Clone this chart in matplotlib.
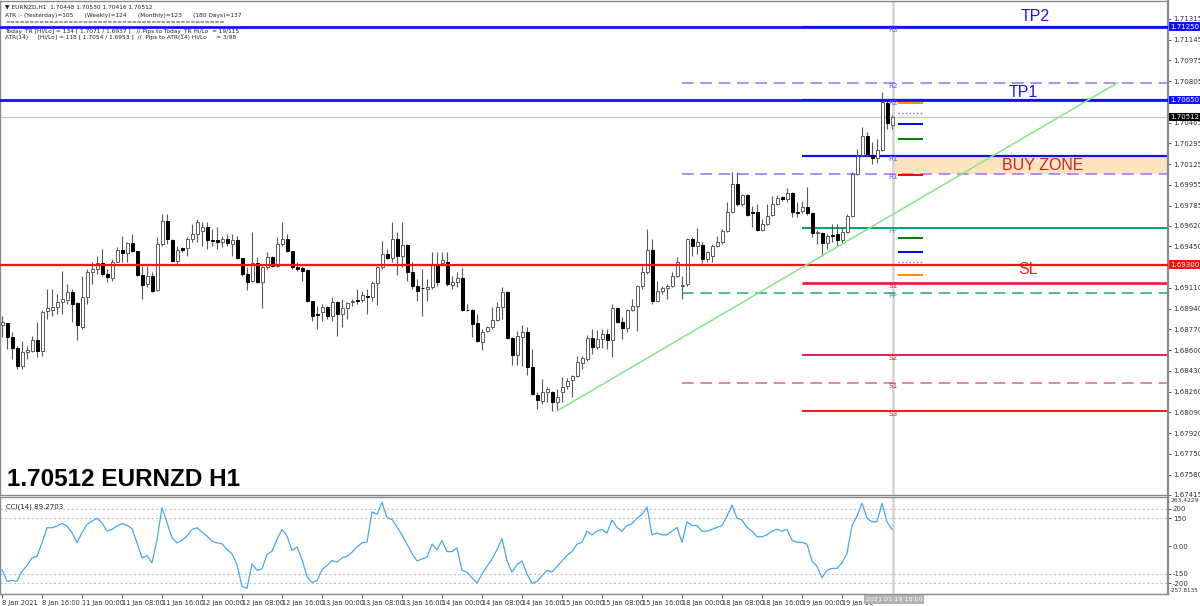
import matplotlib
matplotlib.use("Agg")
import matplotlib.pyplot as plt
from matplotlib.patches import Rectangle
from matplotlib.transforms import blended_transform_factory

# ---------------- data ----------------
opens = [
1.68807, 1.68823, 1.68708, 1.68618, 1.68471, 1.68585, 1.68594, 1.68684, 1.68594, 1.68922,
1.68930, 1.68954, 1.68995, 1.69012, 1.69077, 1.68987, 1.68790, 1.69036, 1.69241, 1.69266,
1.69315, 1.69225, 1.69192, 1.69323, 1.69422, 1.69397, 1.69479, 1.69414, 1.69217, 1.69143,
1.69209, 1.69094, 1.69471, 1.69660, 1.69504, 1.69332, 1.69438, 1.69438, 1.69512, 1.69553,
1.69578, 1.69610, 1.69504, 1.69504, 1.69487, 1.69512, 1.69471, 1.69504, 1.69356, 1.69225,
1.69168, 1.69315, 1.69159, 1.69282, 1.69364, 1.69291, 1.69471, 1.69512, 1.69414, 1.69282,
1.69274, 1.69258, 1.69004, 1.68897, 1.68913, 1.68954, 1.68881, 1.68995, 1.68897, 1.68946,
1.68995, 1.69012, 1.69012, 1.69045, 1.69036, 1.69151, 1.69282, 1.69389, 1.69356, 1.69512,
1.69373, 1.69463, 1.69241, 1.69126, 1.69110, 1.69102, 1.69118, 1.69299, 1.69315, 1.69323,
1.69135, 1.69159, 1.69192, 1.68930, 1.68930, 1.68823, 1.68668, 1.68758, 1.68790, 1.68848,
1.68954, 1.69077, 1.68700, 1.68561, 1.68708, 1.68749, 1.68462, 1.68233, 1.68184, 1.68257,
1.68257, 1.68175, 1.68257, 1.68307, 1.68356, 1.68389, 1.68495, 1.68528, 1.68700, 1.68627,
1.68692, 1.68733, 1.68684, 1.68946, 1.68831, 1.68782, 1.68930, 1.68962, 1.69126, 1.69241,
1.69422, 1.69004, 1.69086, 1.69110, 1.69126, 1.69209, 1.69126, 1.69143, 1.69512, 1.69455,
1.69463, 1.69348, 1.69373, 1.69455, 1.69487, 1.69578, 1.69734, 1.69963, 1.69799, 1.69873,
1.69734, 1.69734, 1.69586, 1.69635, 1.69709, 1.69799, 1.69856, 1.69840, 1.69889, 1.69734,
1.69742, 1.69774, 1.69725, 1.69561, 1.69561, 1.69479, 1.69545, 1.69553, 1.69504, 1.69569,
1.69701, 1.70045, 1.70201, 1.70357, 1.70201, 1.70176, 1.70242, 1.70627, 1.70448]

highs = [
1.68881, 1.68823, 1.68749, 1.68635, 1.68676, 1.68635, 1.68717, 1.68831, 1.68930, 1.69102,
1.69102, 1.69061, 1.69250, 1.69143, 1.69102, 1.68995, 1.69209, 1.69266, 1.69323, 1.69373,
1.69430, 1.69266, 1.69348, 1.69446, 1.69537, 1.69487, 1.69553, 1.69414, 1.69291, 1.69291,
1.69241, 1.69528, 1.69717, 1.69717, 1.69512, 1.69455, 1.69446, 1.69528, 1.69635, 1.69676,
1.69651, 1.69651, 1.69594, 1.69610, 1.69537, 1.69553, 1.69553, 1.69537, 1.69356, 1.69282,
1.69569, 1.69364, 1.69291, 1.69405, 1.69373, 1.69528, 1.69651, 1.69553, 1.69414, 1.69323,
1.69291, 1.69266, 1.69004, 1.68962, 1.68979, 1.68962, 1.69036, 1.69004, 1.69020, 1.68995,
1.69020, 1.69102, 1.69086, 1.69102, 1.69168, 1.69291, 1.69496, 1.69430, 1.69651, 1.69569,
1.69651, 1.69471, 1.69323, 1.69184, 1.69266, 1.69184, 1.69405, 1.69405, 1.69405, 1.69405,
1.69209, 1.69241, 1.69274, 1.68979, 1.68938, 1.68897, 1.68774, 1.68799, 1.68954, 1.68995,
1.69118, 1.69086, 1.68708, 1.68758, 1.68807, 1.68790, 1.68610, 1.68257, 1.68364, 1.68298,
1.68266, 1.68282, 1.68380, 1.68372, 1.68397, 1.68552, 1.68552, 1.68725, 1.68774, 1.68766,
1.68774, 1.68774, 1.68979, 1.68954, 1.68872, 1.68938, 1.69020, 1.69135, 1.69291, 1.69594,
1.69512, 1.69168, 1.69126, 1.69143, 1.69241, 1.69364, 1.69209, 1.69520, 1.69528, 1.69602,
1.69487, 1.69414, 1.69471, 1.69537, 1.69594, 1.69815, 1.70061, 1.70061, 1.69881, 1.69881,
1.69783, 1.69799, 1.69676, 1.69799, 1.69865, 1.69873, 1.69865, 1.69930, 1.69897, 1.69815,
1.69824, 1.69938, 1.69734, 1.69586, 1.69569, 1.69553, 1.69635, 1.69635, 1.69610, 1.69717,
1.70061, 1.70250, 1.70430, 1.70389, 1.70307, 1.70332, 1.70717, 1.70660, 1.70530]

lows = [
1.68708, 1.68610, 1.68528, 1.68446, 1.68446, 1.68528, 1.68585, 1.68544, 1.68552, 1.68856,
1.68881, 1.68897, 1.68897, 1.68979, 1.68831, 1.68684, 1.68774, 1.68979, 1.69143, 1.69225,
1.69209, 1.69159, 1.69168, 1.69323, 1.69323, 1.69323, 1.69405, 1.69209, 1.69020, 1.69118,
1.69077, 1.69086, 1.69455, 1.69471, 1.69323, 1.69307, 1.69405, 1.69373, 1.69487, 1.69487,
1.69455, 1.69430, 1.69455, 1.69430, 1.69446, 1.69455, 1.69373, 1.69348, 1.69209, 1.69094,
1.69159, 1.69151, 1.68946, 1.69266, 1.69282, 1.69282, 1.69455, 1.69405, 1.69266, 1.69250,
1.69168, 1.68995, 1.68840, 1.68774, 1.68840, 1.68856, 1.68840, 1.68717, 1.68790, 1.68856,
1.68962, 1.68979, 1.68995, 1.68897, 1.69004, 1.68971, 1.69266, 1.69348, 1.69323, 1.69217,
1.69282, 1.69168, 1.69102, 1.69004, 1.68881, 1.69004, 1.69102, 1.69126, 1.69307, 1.69126,
1.69102, 1.69118, 1.68922, 1.68922, 1.68708, 1.68668, 1.68602, 1.68749, 1.68774, 1.68840,
1.68856, 1.68692, 1.68479, 1.68479, 1.68471, 1.68397, 1.68233, 1.68118, 1.68159, 1.68175,
1.68102, 1.68102, 1.68175, 1.68282, 1.68216, 1.68380, 1.68446, 1.68512, 1.68569, 1.68610,
1.68618, 1.68610, 1.68544, 1.68823, 1.68692, 1.68749, 1.68922, 1.68758, 1.69102, 1.69225,
1.68979, 1.68995, 1.69061, 1.69020, 1.69118, 1.69200, 1.69020, 1.69126, 1.69373, 1.69389,
1.69315, 1.69323, 1.69323, 1.69446, 1.69471, 1.69569, 1.69725, 1.69783, 1.69783, 1.69701,
1.69610, 1.69578, 1.69578, 1.69627, 1.69701, 1.69791, 1.69824, 1.69815, 1.69692, 1.69692,
1.69725, 1.69709, 1.69528, 1.69471, 1.69373, 1.69430, 1.69487, 1.69455, 1.69471, 1.69561,
1.69692, 1.70037, 1.70193, 1.70193, 1.70127, 1.70135, 1.70234, 1.70414, 1.70416]

closes = [
1.68831, 1.68708, 1.68618, 1.68471, 1.68585, 1.68602, 1.68684, 1.68594, 1.68913, 1.68946,
1.68954, 1.68995, 1.69020, 1.69077, 1.68979, 1.68807, 1.69036, 1.69241, 1.69266, 1.69315,
1.69225, 1.69200, 1.69323, 1.69422, 1.69397, 1.69479, 1.69414, 1.69217, 1.69135, 1.69209,
1.69086, 1.69471, 1.69660, 1.69512, 1.69332, 1.69422, 1.69422, 1.69512, 1.69553, 1.69651,
1.69610, 1.69504, 1.69496, 1.69487, 1.69512, 1.69479, 1.69504, 1.69356, 1.69225, 1.69159,
1.69315, 1.69159, 1.69282, 1.69364, 1.69291, 1.69471, 1.69512, 1.69414, 1.69282, 1.69266,
1.69250, 1.69004, 1.68881, 1.68889, 1.68954, 1.68881, 1.68995, 1.68897, 1.68946, 1.68987,
1.69004, 1.69004, 1.69053, 1.69036, 1.69151, 1.69282, 1.69389, 1.69356, 1.69512, 1.69373,
1.69463, 1.69241, 1.69126, 1.69086, 1.69108, 1.69118, 1.69299, 1.69159, 1.69340, 1.69143,
1.69159, 1.69192, 1.68930, 1.68928, 1.68815, 1.68676, 1.68749, 1.68790, 1.68848, 1.68954,
1.69077, 1.68700, 1.68561, 1.68717, 1.68749, 1.68462, 1.68241, 1.68192, 1.68257, 1.68282,
1.68175, 1.68216, 1.68298, 1.68348, 1.68389, 1.68504, 1.68536, 1.68700, 1.68627, 1.68692,
1.68733, 1.68684, 1.68946, 1.68831, 1.68782, 1.68930, 1.68962, 1.69126, 1.69241, 1.69422,
1.69004, 1.69086, 1.69110, 1.69126, 1.69209, 1.69323, 1.69135, 1.69512, 1.69455, 1.69487,
1.69348, 1.69405, 1.69455, 1.69487, 1.69578, 1.69734, 1.69963, 1.69799, 1.69873, 1.69709,
1.69725, 1.69586, 1.69635, 1.69701, 1.69799, 1.69848, 1.69840, 1.69889, 1.69734, 1.69725,
1.69774, 1.69725, 1.69561, 1.69569, 1.69479, 1.69537, 1.69537, 1.69504, 1.69569, 1.69701,
1.70045, 1.70193, 1.70357, 1.70209, 1.70176, 1.70242, 1.70635, 1.70463, 1.70512]

cci_values = [
-127, -190, -185, -190, -136, -105, -64, -55, 17, 98,
98, 107, 122, 107, 71, 17, 71, 116, 134, 149,
125, 80, 89, 107, 120, 111, 93, 17, -64, -51,
-91, 35, 206, 125, 44, 17, 31, 53, 89, 98,
75, 53, 26, 17, 12, -19, -42, -100, -217, -228,
-95, -131, -123, -46, -28, 35, 89, 53, -24, -5,
-73, -163, -196, -185, -127, -105, -78, -87, -64, -55,
-33, -5, 17, 21, 183, 170, 234, 152, 143, 102,
60, 10, -40, -80, -70, -60, 10, -20, 30, -30,
-30, -10, -130, -140, -170, -200, -150, -110, -70, -20,
40, -80, -140, -100, -80, -150, -200, -190, -160, -130,
-140, -110, -80, -50, -30, 10, 20, 80, 60, 80,
90, 70, 140, 100, 80, 110, 120, 150, 170, 210,
60, 70, 60, 60, 80, 100, 20, 130, 110, 110,
80, 80, 90, 100, 110, 160, 220, 150, 140, 100,
80, 50, 50, 60, 80, 90, 80, 90, 30, 20,
20, 10, -80, -110, -170, -130, -120, -120, -90, -40,
110, 160, 230, 150, 130, 130, 230, 130, 89.2703]

time_labels = ["8 Jan 2021", "8 Jan 16:00", "11 Jan 00:00", "11 Jan 08:00", "11 Jan 16:00",
               "12 Jan 00:00", "12 Jan 08:00", "12 Jan 16:00", "13 Jan 00:00", "13 Jan 08:00",
               "13 Jan 16:00", "14 Jan 00:00", "14 Jan 08:00", "14 Jan 16:00", "15 Jan 00:00",
               "15 Jan 08:00", "15 Jan 16:00", "18 Jan 00:00", "18 Jan 08:00", "18 Jan 16:00",
               "19 Jan 00:00", "19 Jan 08"]
time_label_bars = [0, 8, 16, 24, 32, 40, 48, 56, 64, 72, 80, 88, 96, 104, 112, 120, 128,
                   136, 144, 152, 160, 168]
last_bar_label = "2021.01.19 18:00"

price_ticks = [1.71315, 1.71145, 1.70975, 1.70805, 1.70635, 1.70465, 1.70295, 1.70125,
               1.69955, 1.69785, 1.69620, 1.69450, 1.69280, 1.69110, 1.68940, 1.68770,
               1.68600, 1.68430, 1.68260, 1.68090, 1.67920, 1.67750, 1.67580, 1.67415]
hidden_ticks = [1.70635, 1.69280]   # covered by the level boxes

tp2, tp1, sl_level = 1.71250, 1.70650, 1.69300
last_price = 1.70512
# daily pivots (start 19 Jan 00:00) and weekly pivots (start 18 Jan 00:00)
daily_levels = {"R3": 1.71250, "R2": 1.70650, "R1": 1.70191, "PP": 1.69601,
                "S1": 1.69150, "S2": 1.68560, "S3": 1.68101}
weekly_levels = {"R2": 1.70789, "R1": 1.70043, "PP": 1.69068, "S1": 1.68331}
daily_start_bar, weekly_start_bar = 160, 136
# ATR / range markers
atr_markers = [(1.70625, "#ff8c00", "-"), (1.70543, "#7070ff", ":"), (1.70453, "#0000ff", "-"),
               (1.70330, "#008000", "-"), (1.70035, "#ff0000", "-"),
               (1.69519, "#008000", "-"), (1.69404, "#0000ff", "-"), (1.69322, "#7070ff", ":"),
               (1.69216, "#ff8c00", "-")]
trend_start_bar, trend_end_bar = 111, 223.3
trend_end_price = 1.70795
cci_levels = [200, 150, -150, -200]
cci_min, cci_max = -257.8135, 263.4229

# ---------------- figure ----------------
W, H = 1200, 606
fig = plt.figure(figsize=(W / 100, H / 100), dpi=100)
fig.patch.set_facecolor("white")
FONT = "DejaVu Sans"

def fx(px):
    return px / W

def fy(py):
    return 1 - py / H

ax = fig.add_axes([0, fy(495), fx(1168), (495 - 1) / H])
axc = fig.add_axes([0, fy(594), fx(1168), (594 - 497) / H])

n = len(closes)
x0 = -0.4
x1 = 233.2
ax.set_xlim(x0, x1)
ax.set_ylim(1.67413, 1.71461)
axc.set_xlim(x0, x1)
axc.set_ylim(cci_min, cci_max)

for a in (ax, axc):
    for s in a.spines.values():
        s.set_color("#8a8a8a")
        s.set_linewidth(1.0)
    a.spines["right"].set_linewidth(1.6)
    a.set_facecolor("white")

# candles
wick_c = "#5a5a5a"
for i in range(n):
    o, h, l, c = opens[i], highs[i], lows[i], closes[i]
    ax.vlines(i, l, h, color=wick_c, lw=0.8, zorder=3)
    bottom = min(o, c)
    height = max(abs(c - o), 0.000015)
    fc = "white" if c >= o else "black"
    ax.add_patch(Rectangle((i - 0.3, bottom), 0.6, height, facecolor=fc,
                           edgecolor=wick_c if c >= o else "black", lw=0.7, zorder=4))

# full-width lines
ax.axhline(last_price, color="#c8c8c0", lw=1.0, zorder=1)
ax.axhline(tp2, color="#1010ff", lw=2.0, zorder=5)
ax.axhline(tp1, color="#1010ff", lw=2.0, zorder=5)
ax.axhline(sl_level, color="#ff1010", lw=1.6, zorder=5)

# buy zone
ax.add_patch(Rectangle((178.2, weekly_levels["R1"]), x1 - 178.2,
                       daily_levels["R1"] - weekly_levels["R1"],
                       facecolor="#fde3bf", edgecolor="none", zorder=0.5))

# weekly pivots (dashed)
wcol = {"R2": "#9d7cf2", "R1": "#9d7cf2", "PP": "#3aa6a0", "S1": "#d47a7a"}
for k, v in weekly_levels.items():
    ax.hlines(v, weekly_start_bar, x1, colors=wcol[k], lw=1.2, linestyles=(0, (7, 4)), zorder=2)

# daily pivots
dcol = {"R3": "#1010ff", "R2": "#1010ff", "R1": "#1010ff", "PP": "#00a07a",
        "S1": "#e8204a", "S2": "#e0205a", "S3": "#f01818"}
dlw = {"R3": 1.6, "R2": 1.6, "R1": 1.6, "PP": 1.4, "S1": 2.0, "S2": 1.4, "S3": 1.4}
for k, v in daily_levels.items():
    ax.hlines(v, daily_start_bar, x1, colors=dcol[k], lw=dlw[k], zorder=2.5)

# level labels
lab_col = {"R": "#6a5cff", "P": "#30a0a0", "S": "#f02020"}
for lv in (daily_levels, weekly_levels):
    for k, v in lv.items():
        ax.text(178.2, v, k, fontsize=5.2, color=lab_col[k[0]], ha="center", va="top",
                family=FONT, zorder=7)

# vertical marker line at last bar
ax.axvline(178.2, color="#d4d4d4", lw=1.8, zorder=0.8)
axc.axvline(178.2, color="#d4d4d4", lw=1.8, zorder=0.8)

# ATR markers
for p, col, ls in atr_markers:
    ax.hlines(p, 179.2, 184.2, colors=col, lw=1.4 if ls == "-" else 1.0, linestyles=ls, zorder=6)

# trend line
ax.plot([trend_start_bar, trend_end_bar], [lows[trend_start_bar], trend_end_price],
        color="#86e886", lw=1.1, zorder=6, solid_capstyle="butt")

# big labels
ax.text(206.6, 1.71338, "TP2", color="#1a1ae6", fontsize=11.5, ha="center", va="center",
        family="Liberation Sans")
ax.text(204.2, 1.70712, "TP1", color="#1a1ae6", fontsize=11.5, ha="center", va="center",
        family="Liberation Sans")
ax.text(208.2, 1.70117, "BUY ZONE", color="#c0262a", fontsize=11.5, ha="center", va="center",
        family="Liberation Sans", zorder=7)
ax.text(205.2, 1.69257, "SL", color="#ff1a1a", fontsize=11.5, ha="center", va="center",
        family="Liberation Sans")

# right price axis
ax.yaxis.tick_right()
ax.set_yticks(price_ticks)
ax.set_yticklabels(["" if t in hidden_ticks else f"{t:.5f}" for t in price_ticks])
ax.tick_params(axis="y", length=2.5, width=0.6, color="#404040", labelsize=5,
               pad=1, labelcolor="#303030")
ax.set_xticks([])
for t in ax.get_yticklabels():
    t.set_family(FONT)

bt = blended_transform_factory(ax.transAxes, ax.transData)
for p, fc, txt in [(tp2, "#1010ff", "1.71250"), (tp1, "#1010ff", "1.70650"),
                   (last_price, "#000000", "1.70512"), (sl_level, "#ff1010", "1.69300")]:
    ax.text(1.0016, p, txt, transform=bt, fontsize=5, color="white", ha="left", va="center",
            family=FONT, zorder=10, clip_on=False,
            bbox=dict(boxstyle="square,pad=0.18", fc=fc, ec="none"))

# CCI panel
xs = list(range(len(cci_values)))
axc.plot(xs, cci_values, color="#45a8f5", lw=0.9, zorder=3)
for lv in cci_levels:
    axc.axhline(lv, color="#c4c4c4", lw=0.8, ls=(0, (2, 2)), zorder=1)
axc.yaxis.tick_right()
axc.set_yticks([200, 150, 0, -150, -200])
axc.set_yticklabels(["200", "150", "0.00", "-150", "-200"])
axc.tick_params(axis="y", length=2.5, width=0.6, color="#404040", labelsize=5, pad=1,
                labelcolor="#303030")
for t in axc.get_yticklabels():
    t.set_family(FONT)
cbt = blended_transform_factory(axc.transAxes, axc.transData)
axc.text(1.0020, cci_max - 4, "263.4229", transform=cbt,
         fontsize=4.3, color="#303030", ha="left", va="top", family=FONT, clip_on=False)
axc.text(1.0012, cci_min + 4, "-257.8135", transform=cbt,
         fontsize=4.1, color="#303030", ha="left", va="bottom", family=FONT, clip_on=False)
axc.text(0.005, 0.93, "CCI(14) 89.2703", transform=axc.transAxes, fontsize=5, color="#202020",
         ha="left", va="top", family=FONT)

axc.set_xticks(time_label_bars)
axc.set_xticklabels(time_labels)
axc.tick_params(axis="x", length=3, width=0.6, color="#404040", labelsize=4.8, pad=1,
                labelcolor="#303030")
for t in axc.get_xticklabels():
    t.set_ha("left")
    t.set_family(FONT)
axc.text(178.4, -0.03, last_bar_label, transform=blended_transform_factory(axc.transData, axc.transAxes),
         fontsize=4.6, color="white", ha="center", va="top", family=FONT, zorder=10, clip_on=False,
         bbox=dict(boxstyle="square,pad=0.25", fc="#b4b4b4", ec="none"))

# header texts
hdr = [
    (7, "\u25bc EURNZD,H1  1.70448 1.70530 1.70416 1.70512"),
    (15, "ATR :- (Yesterday)=105      (Weekly)=124      (Monthly)=123      (180 Days)=137"),
    (23, "=" * 45),
    (31, "Today_TR [Hi/Lo] = 134 [ 1.7071 / 1.6937 ]   // Pips to Today_TR Hi/Lo  = 19/115"),
    (38, "ATR(14)     [Hi/Lo] = 118 [ 1.7054 / 1.6953 ]  //  Pips to ATR(14) Hi/Lo     = 3/98"),
]
for py, txt in hdr:
    fig.text(fx(5), fy(py), txt, fontsize=4.2, color="#202020", ha="left", va="center", family=FONT)

fig.text(fx(7), fy(480), "1.70512 EURNZD H1", fontsize=17.5, fontweight="bold", color="black",
         ha="left", va="center", family="Liberation Sans")

fig.savefig("out.png", dpi=100, facecolor="white")
